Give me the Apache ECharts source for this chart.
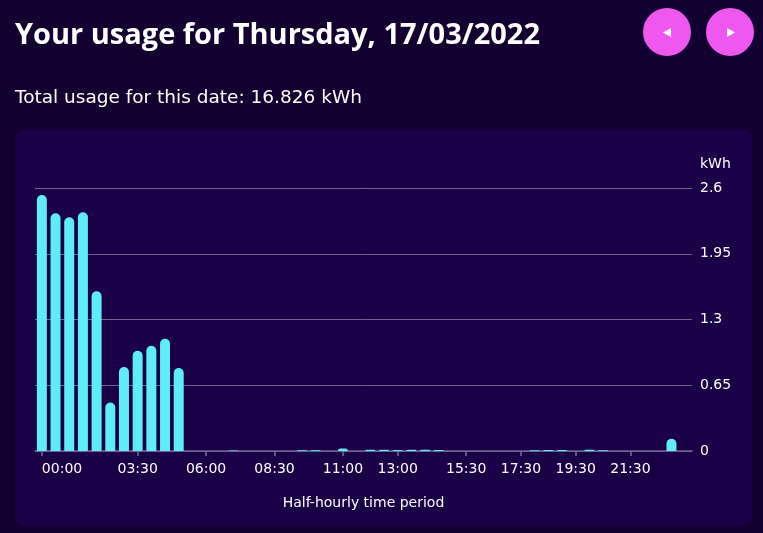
<!DOCTYPE html>
<html>
<head>
<meta charset="utf-8">
<script src="https://cdn.jsdelivr.net/npm/echarts@6/dist/echarts.min.js"></script>
<style>
html,body{margin:0;padding:0;background:#120030;}
#c{width:763px;height:533px;}
</style>
</head>
<body>
<div id="c"></div>
<script>
var titleText = "Your usage for Thursday, 17/03/2022";
var subtitleText = "Total usage for this date: 16.826 kWh";
var categories = ["00:00","00:30","01:00","01:30","02:00","02:30","03:00","03:30","04:00","04:30","05:00","05:30",
  "06:00","06:30","07:00","07:30","08:00","08:30","09:00","09:30","10:00","10:30","11:00","11:30",
  "12:00","12:30","13:00","13:30","14:00","14:30","15:00","15:30","16:00","16:30","17:00","17:30",
  "18:00","18:30","19:00","19:30","20:00","20:30","21:00","21:30","22:00","22:30","23:00","23:30"];
var usage = [2.53,2.35,2.31,2.36,1.58,0.48,0.83,0.99,1.04,1.11,0.82,0,
  0,0,0.006,0,0,0,0,0.008,0.008,0,0.025,0,
  0.012,0.012,0.01,0.012,0.012,0.01,0,0,0,0,0,0,
  0.008,0.01,0.01,0,0.012,0.008,0,0,0,0,0.12,0];
var labelIndices = [0,7,12,17,22,26,31,35,39,43];
var yTicks = [0,0.65,1.3,1.95,2.6];
var yUnit = "kWh";
var xAxisTitle = "Half-hourly time period";

var chart = echarts.init(document.getElementById('c'));
var font = "'DejaVu Sans', sans-serif";
function showIdx(i){ return labelIndices.indexOf(i) >= 0; }
chart.setOption({
  backgroundColor: '#120030',
  animation: false,
  textStyle: {fontFamily: font},
  graphic: [
    {type:'rect', z:-10, shape:{x:15,y:129,width:737,height:397,r:10}, style:{fill:'#1a0046'}},
    {type:'text', left:15, top:21, style:{text:titleText, fill:'#ffffff', font:"bold 29px 'Open Sans', sans-serif"}},
    {type:'text', left:15, top:89, style:{text:subtitleText, fill:'#ffffff', font:"18.5px 'DejaVu Sans', sans-serif"}},
    {type:'circle', shape:{cx:667,cy:32,r:24}, style:{fill:'#ee58ee'}},
    {type:'circle', shape:{cx:730,cy:32,r:24}, style:{fill:'#ee58ee'}},
    {type:'polygon', shape:{points:[[663,32.5],[671,28],[671,37]]}, style:{fill:'#ffffff'}},
    {type:'polygon', shape:{points:[[735,32.5],[727,28],[727,37]]}, style:{fill:'#ffffff'}}
  ],
  grid: {left:35, right:71, top:188, bottom:82, containLabel:false},
  xAxis: {
    type:'category',
    data: categories,
    name: xAxisTitle,
    nameLocation:'middle',
    nameGap:45,
    nameTextStyle:{color:'#ffffff', fontSize:14, fontFamily:font},
    axisLine:{show:true, lineStyle:{color:'#6f6390', width:1.5}},
    axisTick:{show:true, alignWithLabel:true, length:5, lineStyle:{color:'#7a6e9a', width:1.5}, interval:showIdx},
    axisLabel:{color:'#ffffff', fontSize:14, margin:11, fontFamily:font, interval:showIdx, alignMinLabel:'left'}
  },
  yAxis: {
    type:'value',
    position:'right',
    min:yTicks[0], max:yTicks[yTicks.length-1], interval:0.65,
    name: yUnit,
    nameGap:17,
    nameTextStyle:{color:'#ffffff', fontSize:14, align:'left', padding:[0,0,0,8], fontFamily:font},
    axisLine:{show:false},
    axisTick:{show:false},
    axisLabel:{color:'#ffffff', fontSize:14, margin:8, fontFamily:font},
    splitLine:{lineStyle:{color:'#6f6390', width:1}}
  },
  series: [{
    type:'bar',
    data: usage,
    barWidth:10,
    itemStyle:{color:'#5eecf6', borderRadius:[5,5,0,0]}
  }]
});
</script>
</body>
</html>
